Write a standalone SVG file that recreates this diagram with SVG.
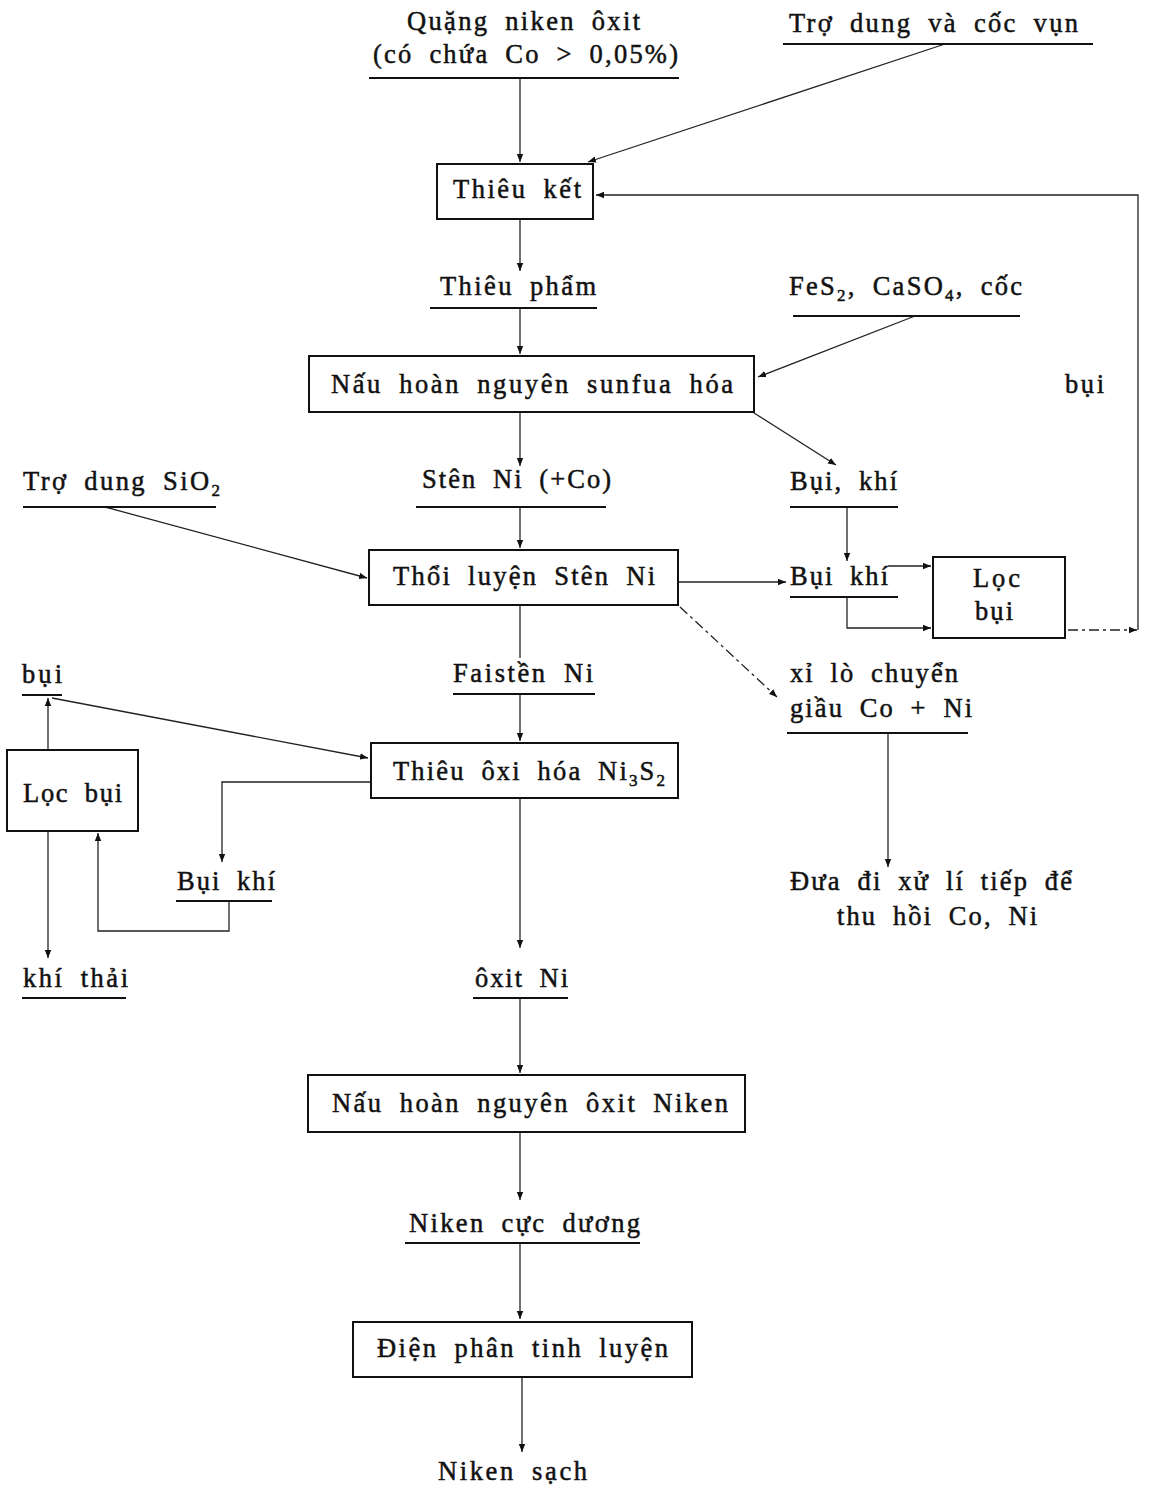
<svg xmlns="http://www.w3.org/2000/svg" width="1152" height="1489" viewBox="0 0 1152 1489">
<style>
text{font-family:"Liberation Serif","DejaVu Serif",serif;font-size:26.5px;word-spacing:7px;fill:#111;stroke:#111;stroke-width:0.5}
.sub{font-size:17px}
.box{fill:#fff;stroke:#111;stroke-width:2}
.ul{stroke:#111;stroke-width:2.2}
.c{fill:none;stroke:#222;stroke-width:1.3}
.d{stroke-dasharray:10 4 3 4}
</style>
<defs>
<marker id="a" markerUnits="userSpaceOnUse" markerWidth="10" markerHeight="8" refX="8" refY="4" orient="auto"><path d="M0,0.8 L8,4 L0,7.2 Z" fill="#111"/></marker>
</defs>
<rect width="1152" height="1489" fill="#fff"/>
<g id="connectors">
<path class="c" d="M520,79 V162" marker-end="url(#a)"/>
<path class="c" d="M945,44 L588,162" marker-end="url(#a)"/>
<path class="c d" d="M1068,630 H1137" marker-end="url(#a)"/>
<path class="c" d="M1138,630 V195 H596" marker-end="url(#a)"/>
<path class="c" d="M520,220 V271" marker-end="url(#a)"/>
<path class="c" d="M520,309 V354" marker-end="url(#a)"/>
<path class="c" d="M915,316 L758,377" marker-end="url(#a)"/>
<path class="c" d="M754,413 L836,465" marker-end="url(#a)"/>
<path class="c" d="M520,412 V466" marker-end="url(#a)"/>
<path class="c" d="M520,507 V548" marker-end="url(#a)"/>
<path class="c" d="M105,507 L367,578" marker-end="url(#a)"/>
<path class="c" d="M678,582 H786" marker-end="url(#a)"/>
<path class="c" d="M847,507 V561" marker-end="url(#a)"/>
<path class="c" d="M888,566 H931" marker-end="url(#a)"/>
<path class="c" d="M847,597 V628 H931" marker-end="url(#a)"/>
<path class="c d" d="M680,607 L777,697" marker-end="url(#a)"/>
<path class="c" d="M888,733 V867" marker-end="url(#a)"/>
<path class="c" d="M520,605 V658"/>
<path class="c" d="M520,695 V741" marker-end="url(#a)"/>
<path class="c" d="M48,750 V698" marker-end="url(#a)"/>
<path class="c" d="M52,698 L368,758" marker-end="url(#a)"/>
<path class="c" d="M370,782 H222 V862" marker-end="url(#a)"/>
<path class="c" d="M229,901 V931 H98 V833" marker-end="url(#a)"/>
<path class="c" d="M48,831 V958" marker-end="url(#a)"/>
<path class="c" d="M520,798 V948" marker-end="url(#a)"/>
<path class="c" d="M520,998 V1073" marker-end="url(#a)"/>
<path class="c" d="M520,1132 V1200" marker-end="url(#a)"/>
<path class="c" d="M520,1243 V1319" marker-end="url(#a)"/>
<path class="c" d="M522,1377 V1452" marker-end="url(#a)"/>
</g>
<g id="n-quang">
<text x="407" y="30" textLength="233" lengthAdjust="spacing">Quặng niken ôxit</text>
<text x="373" y="63" textLength="305" lengthAdjust="spacing">(có chứa Co &gt; 0,05%)</text>
<line class="ul" x1="369" y1="78" x2="679" y2="78"/>
</g>
<g id="n-trodung">
<text x="789" y="32" textLength="289" lengthAdjust="spacing">Trợ dung và cốc vụn</text>
<line class="ul" x1="783" y1="44" x2="1093" y2="44"/>
</g>
<g id="n-thieuket">
<rect class="box" x="437" y="164" width="156" height="55"/>
<text x="453" y="198" textLength="128" lengthAdjust="spacing">Thiêu kết</text>
</g>
<g id="n-thieupham">
<text x="440" y="295" textLength="156" lengthAdjust="spacing">Thiêu phẩm</text>
<line class="ul" x1="430" y1="308" x2="597" y2="308"/>
</g>
<g id="n-fes2">
<text x="789" y="295" textLength="233" lengthAdjust="spacing">FeS<tspan class="sub" dy="6">2</tspan><tspan dy="-6">, CaSO</tspan><tspan class="sub" dy="6">4</tspan><tspan dy="-6">, cốc</tspan></text>
<line class="ul" x1="793" y1="316" x2="1020" y2="316"/>
</g>
<g id="n-bui-right">
<text x="1065" y="393" textLength="39" lengthAdjust="spacing">bụi</text>
</g>
<g id="n-nau-sunfua">
<rect class="box" x="309" y="356" width="445" height="56"/>
<text x="331" y="393" textLength="402" lengthAdjust="spacing">Nấu hoàn nguyên sunfua hóa</text>
</g>
<g id="n-trodung-sio2">
<text x="23" y="490" textLength="197" lengthAdjust="spacing">Trợ dung SiO<tspan class="sub" dy="6">2</tspan></text>
<line class="ul" x1="23" y1="507" x2="216" y2="507"/>
</g>
<g id="n-sten">
<text x="422" y="488" textLength="189" lengthAdjust="spacing">Stên Ni (+Co)</text>
<line class="ul" x1="416" y1="507" x2="606" y2="507"/>
</g>
<g id="n-buikhi1">
<text x="790" y="490" textLength="107" lengthAdjust="spacing">Bụi, khí</text>
<line class="ul" x1="790" y1="507" x2="898" y2="507"/>
</g>
<g id="n-thoiluyen">
<rect class="box" x="369" y="550" width="309" height="55"/>
<text x="393" y="585" textLength="262" lengthAdjust="spacing">Thổi luyện Stên Ni</text>
</g>
<g id="n-buikhi2">
<text x="790" y="585" textLength="98" lengthAdjust="spacing">Bụi khí</text>
<line class="ul" x1="790" y1="597" x2="898" y2="597"/>
</g>
<g id="n-locbui-right">
<rect class="box" x="933" y="557" width="132" height="81"/>
<text x="973" y="587" textLength="47" lengthAdjust="spacing">Lọc</text>
<text x="975" y="620" textLength="38" lengthAdjust="spacing">bụi</text>
</g>
<g id="n-xilo">
<text x="790" y="682" textLength="168" lengthAdjust="spacing">xỉ lò chuyển</text>
<text x="790" y="717" textLength="182" lengthAdjust="spacing">giầu Co + Ni</text>
<line class="ul" x1="787" y1="733" x2="968" y2="733"/>
</g>
<g id="n-duadi">
<text x="790" y="890" textLength="282" lengthAdjust="spacing">Đưa đi xử lí tiếp để</text>
<text x="837" y="925" textLength="200" lengthAdjust="spacing">thu hồi Co, Ni</text>
</g>
<g id="n-faisten">
<text x="453" y="682" textLength="140" lengthAdjust="spacing">Faistền Ni</text>
<line class="ul" x1="453" y1="694" x2="595" y2="694"/>
</g>
<g id="n-bui-left">
<text x="22" y="683" textLength="40" lengthAdjust="spacing">bụi</text>
<line class="ul" x1="22" y1="695" x2="62" y2="695"/>
</g>
<g id="n-thieuoxi">
<rect class="box" x="371" y="743" width="307" height="55"/>
<text x="393" y="780" textLength="272" lengthAdjust="spacing">Thiêu ôxi hóa Ni<tspan class="sub" dy="6">3</tspan><tspan dy="-6">S</tspan><tspan class="sub" dy="6">2</tspan></text>
</g>
<g id="n-locbui-left">
<rect class="box" x="7" y="750" width="131" height="81"/>
<text x="23" y="802" textLength="99" lengthAdjust="spacing">Lọc bụi</text>
</g>
<g id="n-buikhi3">
<text x="177" y="890" textLength="98" lengthAdjust="spacing">Bụi khí</text>
<line class="ul" x1="176" y1="901" x2="272" y2="901"/>
</g>
<g id="n-khithai">
<text x="23" y="987" textLength="105" lengthAdjust="spacing">khí thải</text>
<line class="ul" x1="22" y1="998" x2="126" y2="998"/>
</g>
<g id="n-oxitni">
<text x="475" y="987" textLength="93" lengthAdjust="spacing">ôxit Ni</text>
<line class="ul" x1="473" y1="998" x2="568" y2="998"/>
</g>
<g id="n-nau-oxit">
<rect class="box" x="308" y="1075" width="437" height="57"/>
<text x="332" y="1112" textLength="396" lengthAdjust="spacing">Nấu hoàn nguyên ôxit Niken</text>
</g>
<g id="n-nikencd">
<text x="409" y="1232" textLength="231" lengthAdjust="spacing">Niken cực dương</text>
<line class="ul" x1="405" y1="1243" x2="640" y2="1243"/>
</g>
<g id="n-dienphan">
<rect class="box" x="353" y="1322" width="339" height="55"/>
<text x="377" y="1357" textLength="291" lengthAdjust="spacing">Điện phân tinh luyện</text>
</g>
<g id="n-nikensach">
<text x="438" y="1480" textLength="149" lengthAdjust="spacing">Niken sạch</text>
</g>
</svg>
